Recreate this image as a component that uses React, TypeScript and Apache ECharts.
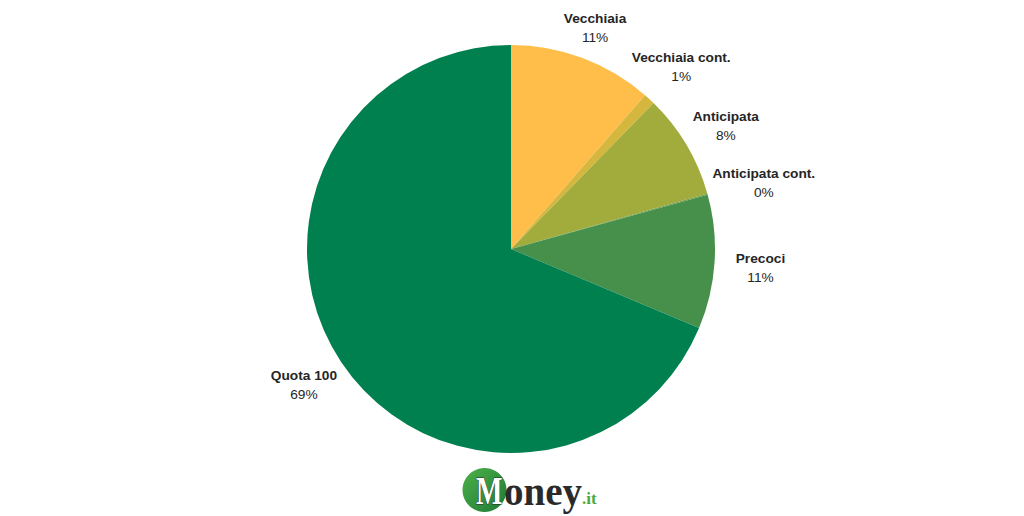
import React, { useEffect, useRef } from "react";
import * as echarts from "echarts";

const categories = ["Vecchiaia", "Vecchiaia cont.", "Anticipata", "Anticipata cont.", "Precoci", "Quota 100"];
const shares = [11.4, 0.9, 8.3, 0.1, 10.6, 68.6];
const colors = ["#FFBD4A", "#D5B73E", "#A2AC3D", "#74A045", "#47904C", "#00804F"];
// small per-label nudges (pixels) to mimic the reference's label placement
const labelNudges: [number, number][] = [[-4, 14], [0, 2], [-1, 5], [11, 1], [-1, 3], [2, -3]];

export default function App() {
  const ref = useRef<HTMLDivElement>(null);
  useEffect(() => {
    document.body.style.margin = "0";
    const chart = echarts.init(ref.current!, null, { renderer: "svg" });
    const data = categories.map((c, i) => ({ name: c, value: shares[i], itemStyle: { color: colors[i] } }));
    chart.setOption({
      animation: false,
      backgroundColor: "#ffffff",
      series: [
        {
          type: "pie",
          center: [511, 249],
          radius: [0, 204],
          startAngle: 90,
          clockwise: true,
          data,
          label: { show: false },
          labelLine: { show: false },
          itemStyle: { borderWidth: 0 },
          emphasis: { disabled: true },
          silent: true,
        },
        {
          type: "pie",
          center: [511, 249],
          radius: [0, 496],
          startAngle: 90,
          clockwise: true,
          data: categories.map((c, i) => ({
            name: c,
            value: shares[i],
            label: { offset: labelNudges[i] },
          })),
          itemStyle: { color: "rgba(0,0,0,0)", borderWidth: 0 },
          silent: true,
          emphasis: { disabled: true },
          labelLine: { show: false },
          label: {
            show: true,
            position: "inside",
            formatter: (p: any) => `{n|${p.name}}\n{p|${Math.round(p.percent)}%}`,
            rich: {
              n: { fontFamily: "Liberation Sans, Arial, sans-serif", fontWeight: "bold", fontSize: 13.7, color: "#252525", lineHeight: 19, align: "center" },
              p: { fontFamily: "Liberation Sans, Arial, sans-serif", fontSize: 13.7, color: "#252525", lineHeight: 19, align: "center" },
            },
          },
        },
      ],
      graphic: [
        {
          type: "circle",
          shape: { cx: 484.5, cy: 490, r: 22 },
          style: {
            fill: new echarts.graphic.LinearGradient(0, 0, 1, 1, [
              { offset: 0, color: "#4DB048" },
              { offset: 1, color: "#1E7A36" },
            ]),
          },
          silent: true,
        },
        {
          type: "text",
          x: 476,
          y: 491,
          scaleX: 0.72,
          style: {
            text: "M",
            font: "bold 39px 'Liberation Serif', 'DejaVu Serif', serif",
            fill: "#ffffff",
            stroke: "#2a2a2a",
            lineWidth: 1,
            verticalAlign: "middle",
          },
          silent: true,
        },
        {
          type: "text",
          x: 504,
          y: 491,
          style: {
            text: "oney",
            font: "bold 39px 'Liberation Serif', 'DejaVu Serif', serif",
            fill: "#2a2a2a",
            verticalAlign: "middle",
          },
          silent: true,
        },
        {
          type: "text",
          x: 582,
          y: 498,
          style: {
            text: ".it",
            font: "bold 17px 'Liberation Serif', 'DejaVu Serif', serif",
            fill: "#4DAA3A",
            verticalAlign: "middle",
          },
          silent: true,
        },
      ],
    });
    return () => chart.dispose();
  }, []);
  return <div ref={ref} style={{ width: 1024, height: 516 }} />;
}
